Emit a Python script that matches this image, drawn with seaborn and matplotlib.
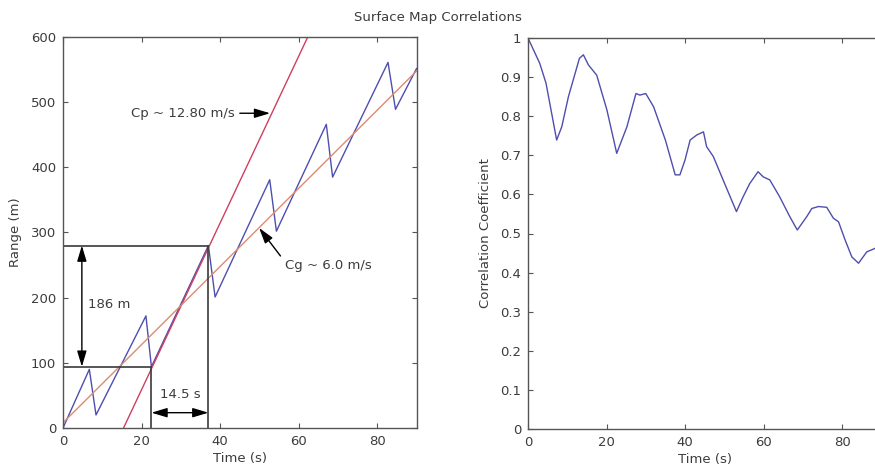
import numpy as np
import pandas as pd
import matplotlib
matplotlib.use("Agg")
import matplotlib.pyplot as plt
import seaborn as sns

# Range of the surface feature versus time (sawtooth track)
range_t = [0, 6.7, 8.4, 21.1, 22.5, 37.0, 38.7, 52.6, 54.3, 67.0, 68.6, 82.7, 84.6, 90.0]
range_m = [0, 90, 20, 172, 94, 280, 201, 381, 302, 466, 385, 561, 489, 552]

# Phase and group velocity fits
cp_speed = 12.80      # m/s
cp_t0 = 15.4          # s, time where the phase line crosses zero range
cg_speed = 6.0        # m/s
cg_r0 = 8.0           # m, offset of the group line

# Crest-to-crest box: times and ranges of the two marked points
box_t = [22.5, 37.0]
box_r = [94, 280]

# Correlation coefficient versus time lag
corr_t = [0, 3.0, 4.6, 7.3, 8.6, 10.3, 13.1, 14.1, 15.4, 17.5, 20.1, 22.6, 25.2,
          27.5, 28.5, 30.0, 32.0, 35.0, 37.5, 38.7, 40.0, 41.3, 43.0, 44.7, 45.5,
          47.2, 49.7, 53.1, 54.8, 56.5, 58.6, 59.9, 61.6, 64.1, 66.7, 68.6, 71.0,
          72.3, 74.0, 76.1, 77.8, 79.1, 80.8, 82.5, 84.2, 86.3, 88.4, 89.5]
corr_c = [1.0, 0.935, 0.884, 0.739, 0.773, 0.85, 0.948, 0.957, 0.931, 0.905, 0.816,
          0.705, 0.773, 0.858, 0.854, 0.858, 0.824, 0.739, 0.650, 0.650, 0.688,
          0.739, 0.752, 0.760, 0.722, 0.697, 0.637, 0.556, 0.594, 0.628, 0.658,
          0.645, 0.637, 0.594, 0.543, 0.509, 0.543, 0.564, 0.569, 0.567, 0.539,
          0.530, 0.483, 0.44, 0.424, 0.453, 0.462, 0.47]

time_ticks = [0, 20, 40, 60, 80]
range_ticks = [0, 100, 200, 300, 400, 500, 600]
corr_ticks = [0, 0.1, 0.2, 0.3, 0.4, 0.5, 0.6, 0.7, 0.8, 0.9, 1.0]
corr_tick_labels = ["0", "0.1", "0.2", "0.3", "0.4", "0.5", "0.6", "0.7", "0.8", "0.9", "1"]

sns.set_style("ticks")
plt.rcParams["font.family"] = ["DejaVu Sans"]
plt.rcParams["font.size"] = 9.5

TEXT = "#3c3c3c"
SPINE = "#555555"
BLUE = "#4e4eae"
RED = "#cf3f5f"
ORANGE = "#df8a6e"
BOX = "#3a3a3a"

fig = plt.figure(figsize=(8.75, 4.7), dpi=100)
ax1 = fig.add_axes([63 / 875, 42 / 470, 353.7 / 875, 391 / 470])
ax2 = fig.add_axes([528 / 875, 41 / 470, 353.3 / 875, 391 / 470])

track = pd.DataFrame({"t": range_t, "r": range_m})
sns.lineplot(data=track, x="t", y="r", ax=ax1, color=BLUE, lw=1.0, sort=False)

cp_t = np.array([cp_t0, cp_t0 + 600 / cp_speed])
sns.lineplot(x=cp_t, y=cp_speed * (cp_t - cp_t0), ax=ax1, color=RED, lw=1.0)

cg_t = np.array([0.0, 90.0])
sns.lineplot(x=cg_t, y=cg_r0 + cg_speed * cg_t, ax=ax1, color=ORANGE, lw=1.0)

for bt, br in zip(box_t, box_r):
    ax1.plot([0, bt], [br, br], color=BOX, lw=1.2)
    ax1.plot([bt, bt], [0, br], color=BOX, lw=1.2)

arrow = dict(arrowstyle="-|>,head_length=1.0,head_width=0.3", color="black", lw=1.0)
darrow = dict(arrowstyle="<|-|>,head_length=1.0,head_width=0.3", color="black", lw=1.0,
              shrinkA=0, shrinkB=0)

ax1.annotate("Cp ~ 12.80 m/s", xy=(52.7, 483), xytext=(43.8, 483),
             ha="right", va="center", color=TEXT,
             arrowprops=dict(arrow, shrinkA=1, shrinkB=0, relpos=(1, 0.5)))
ax1.annotate("Cg ~ 6.0 m/s", xy=(49.9, 307), xytext=(56.6, 250),
             ha="left", va="center", color=TEXT,
             arrowprops=dict(arrow, shrinkA=2, shrinkB=0, relpos=(0, 0.7)))
ax1.annotate("", xy=(4.8, box_r[1]), xytext=(4.8, box_r[0]), arrowprops=darrow)
ax1.text(6.3, 189, f"{box_r[1] - box_r[0]:.0f} m", ha="left", va="center", color=TEXT)
ax1.annotate("", xy=(box_t[1], 23.5), xytext=(box_t[0], 23.5), arrowprops=darrow)
ax1.text((box_t[0] + box_t[1]) / 2, 52, f"{box_t[1] - box_t[0]:.1f} s",
         ha="center", va="center", color=TEXT)

corr = pd.DataFrame({"t": corr_t, "c": corr_c})
sns.lineplot(data=corr, x="t", y="c", ax=ax2, color=BLUE, lw=1.0, sort=False)

ax1.set_xlim(0, 90)
ax1.set_ylim(0, 600)
ax1.set_xticks(time_ticks)
ax1.set_yticks(range_ticks)
ax1.set_xlabel("Time (s)", color=TEXT, labelpad=3)
ax1.set_ylabel("Range (m)", color=TEXT, labelpad=6)

ax2.set_xlim(0, 90)
ax2.set_ylim(0, 1)
ax2.set_xticks(time_ticks)
ax2.set_yticks(corr_ticks)
ax2.set_yticklabels(corr_tick_labels)
ax2.set_xlabel("Time (s)", color=TEXT, labelpad=3)
ax2.set_ylabel("Correlation Coefficient", color=TEXT, labelpad=6)

for ax in (ax1, ax2):
    for s in ax.spines.values():
        s.set_visible(True)
        s.set_color(SPINE)
        s.set_linewidth(1.0)
    ax.tick_params(direction="in", length=3.5, width=0.8, color=SPINE,
                   labelcolor=TEXT, labelsize=9.5, top=True, right=True, pad=5)

fig.text(438 / 875, 1 - 17 / 470, "Surface Map Correlations", ha="center", va="center",
         color=TEXT, fontsize=9.5)

fig.savefig("out.png", dpi=100, facecolor="white")
